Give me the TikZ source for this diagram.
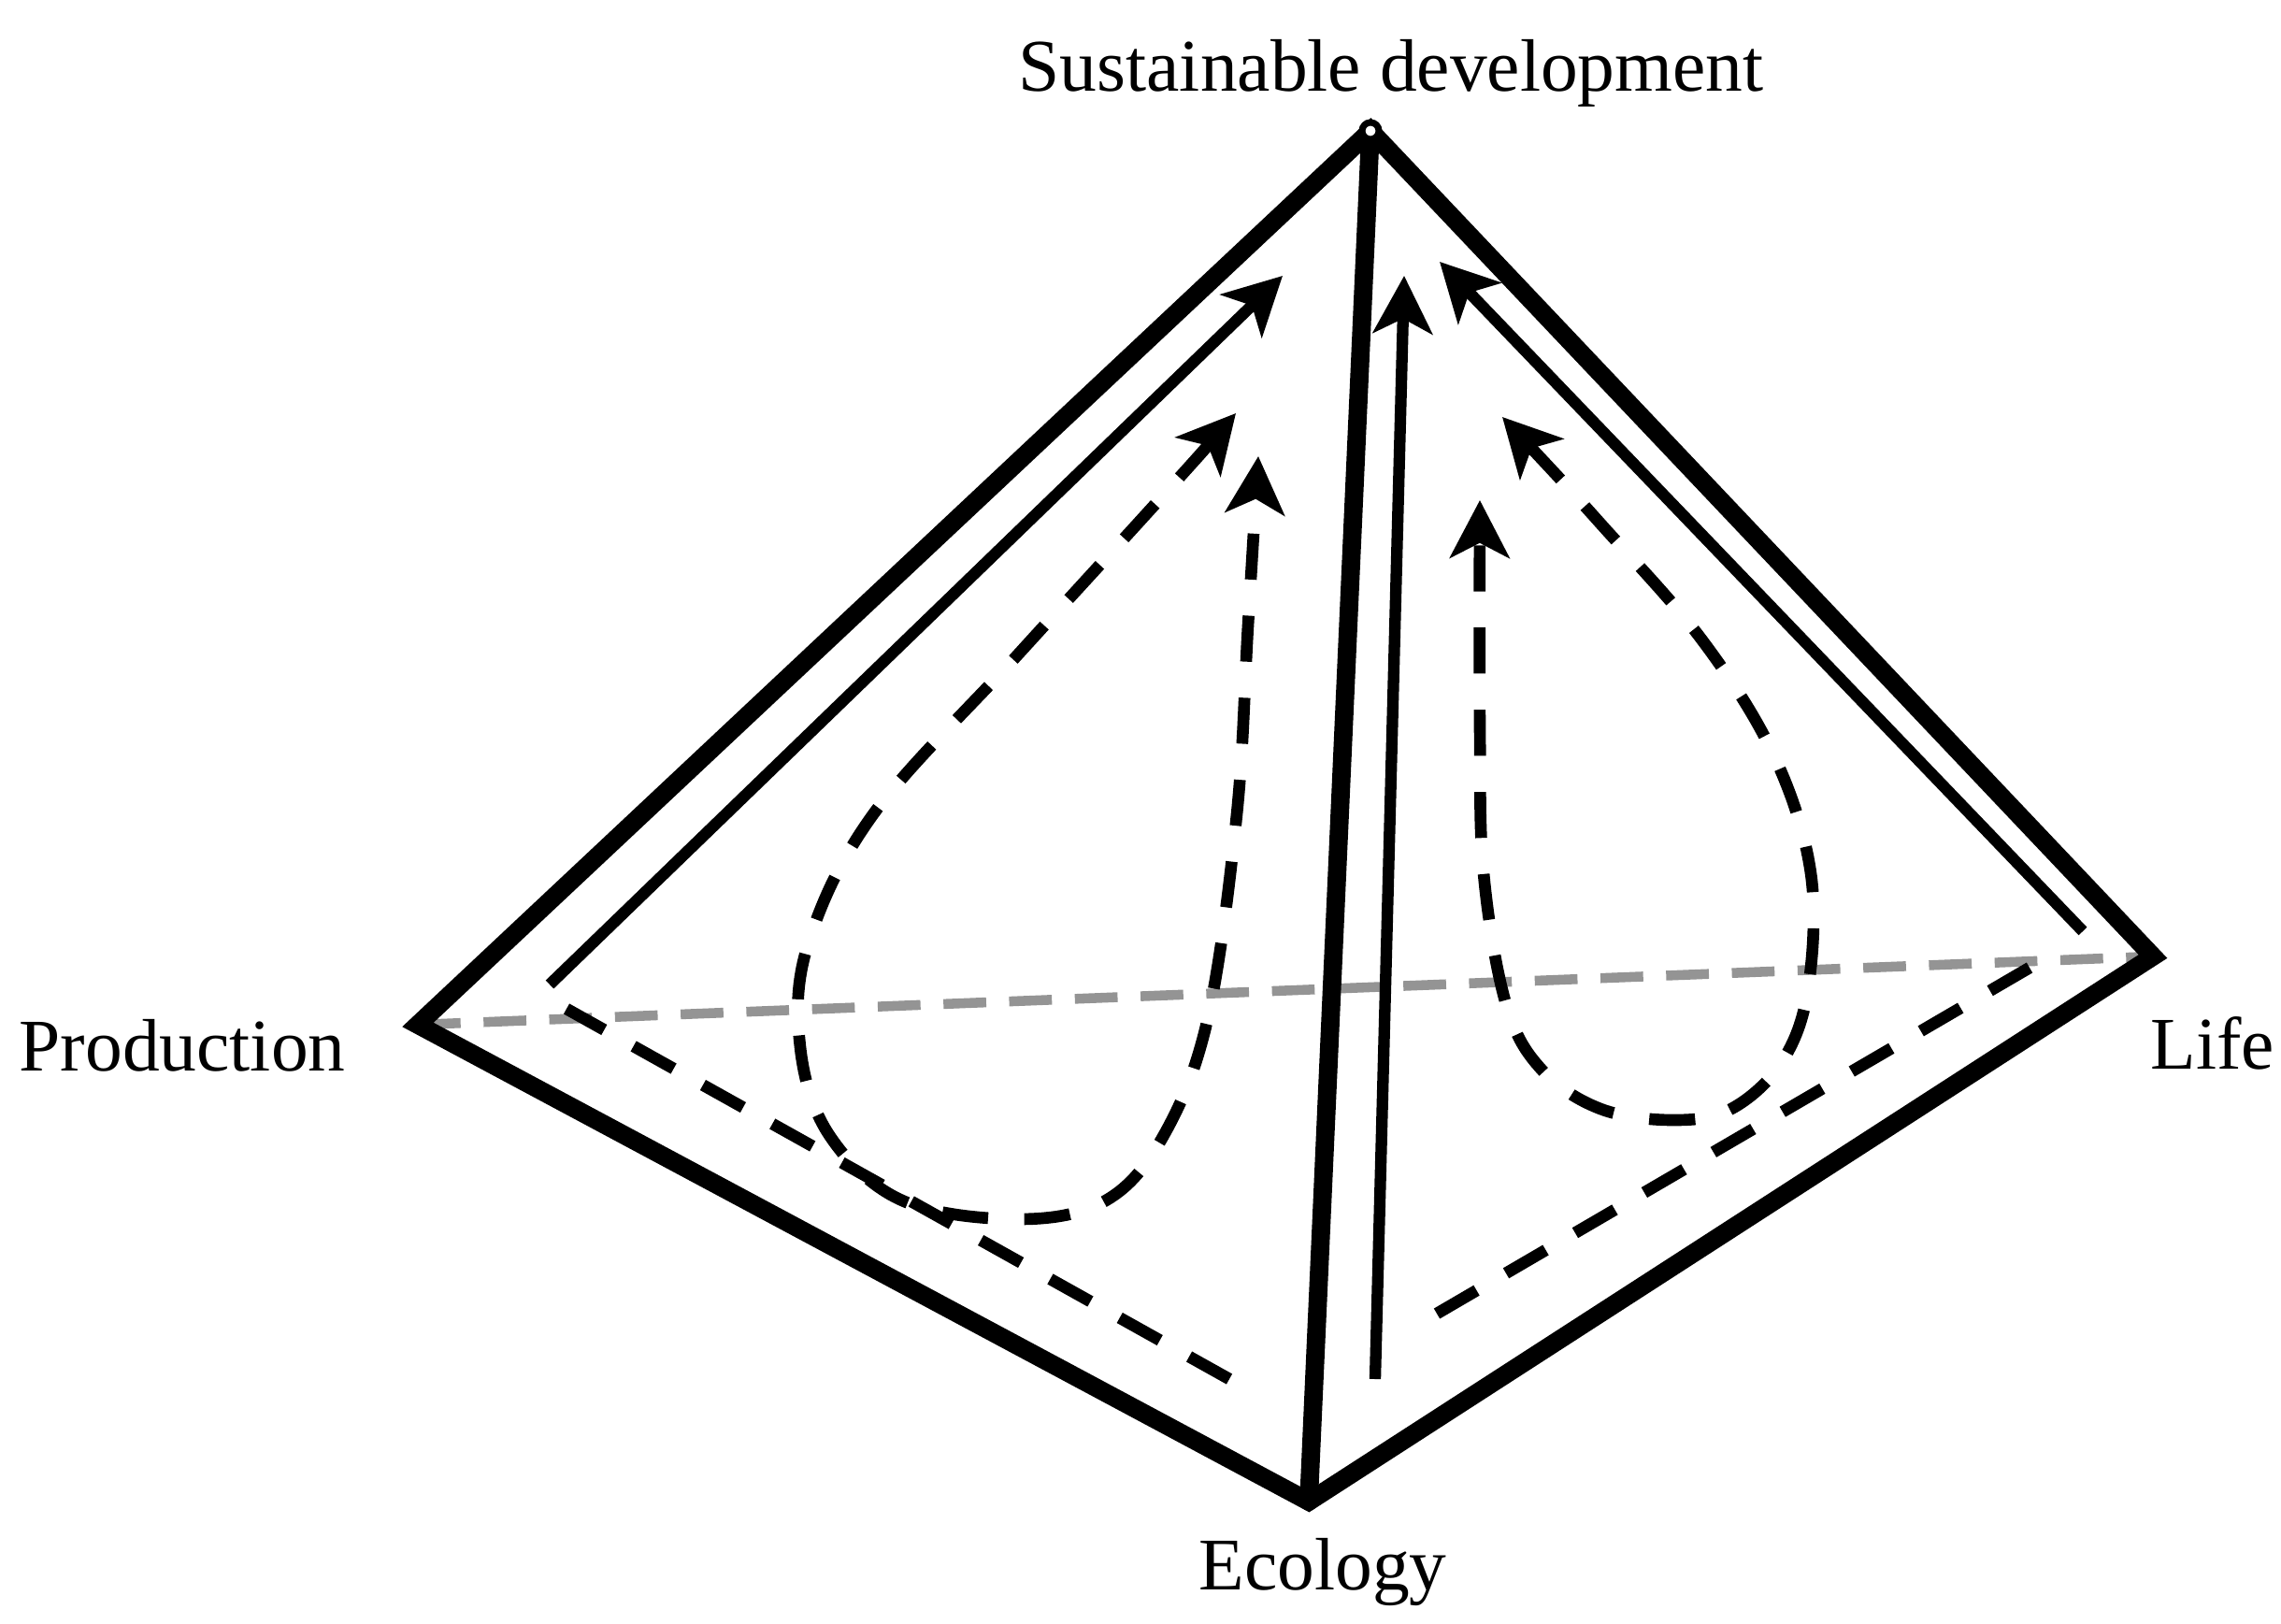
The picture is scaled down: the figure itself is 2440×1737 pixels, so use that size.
\documentclass[tikz,border=0pt]{standalone}
\usepackage{fontspec}
\setmainfont{Liberation Serif}
\usetikzlibrary{arrows.meta}
\begin{document}
\begin{tikzpicture}[x=0.01cm,y=-0.01cm,
  edge/.style={line width=5.6pt, line join=miter, line cap=round},
  tip/.tip={Stealth[length=17.5pt,width=18pt,inset=4.5pt]},
  flow/.style={line width=3.5pt, -tip},
  dflow/.style={line width=3.6pt, tip-tip, dash pattern=on 14pt off 11pt},
  dline/.style={line width=3.6pt, dash pattern=on 14pt off 10.2pt},
  hidden/.style={line width=3pt, black!42, dash pattern=on 13pt off 7pt},
  lbl/.style={font=\fontsize{22.6}{27}\selectfont, inner sep=0pt, anchor=base west}]
\useasboundingbox (0,0) rectangle (2440,1737);
% vertices
\coordinate (A) at (1466,140);
\coordinate (P) at (447,1096);
\coordinate (E) at (1400,1606);
\coordinate (L) at (2303,1023);
% labels
\node[lbl] (tA) at (1089,98) {Sustainable development};
\node[lbl] (tP) at (20,1145) {Production};
\node[lbl] (tL) at (2300,1143) {Life};
\node[lbl] (tE) at (1282,1700) {Ecology};
% hidden edge
\draw[hidden] (P) -- (L);
% left face
\coordinate (ls0) at (588,1053);
\coordinate (ls1) at (1372,295);
\draw[flow] (ls0) -- (ls1);
\coordinate (ld0) at (606,1079);
\coordinate (ld1) at (1315,1475);
\draw[dline] (ld1) -- (ld0);
\coordinate (lt1) at (1322,442);
\coordinate (lt2) at (1346,488);
\draw[dflow] plot[smooth, tension=0.6] coordinates {(lt1) (1245,529) (1089,700) (934,871) (864,1011) (856,1120) (887,1214) (965,1284) (1089,1304) (1183,1284) (1245,1214) (1292,1089) (1323,871) (1335,669) (lt2)};
% right face
\coordinate (rv0) at (1471,1475);
\coordinate (rv1) at (1502,295);
\draw[flow] (rv0) -- (rv1);
\coordinate (rs0) at (2228,996);
\coordinate (rs1) at (1540,280);
\draw[flow] (rs0) -- (rs1);
\coordinate (rd0) at (1537,1405);
\coordinate (rd1) at (2171,1035);
\draw[dline, dash pattern=on 14pt off 10.35pt] (rd0) -- (rd1);
\coordinate (rt1) at (1607,446);
\coordinate (rt2) at (1583,535);
\draw[dflow] plot[smooth, tension=0.6] coordinates {(rt1) (1712,560) (1821,685) (1898,809) (1937,934) (1934,1058) (1906,1136) (1852,1186) (1790,1198) (1712,1186) (1649,1144) (1611,1074) (1587,934) (1583,778) (rt2)};
% outer edges
\draw[edge] (A) -- (P) -- (E) -- (L) -- cycle;
\draw[edge] (A) -- (E);
\draw[fill=white, line width=2pt] (A) circle[radius=0.09cm];
\end{tikzpicture}
\end{document}
